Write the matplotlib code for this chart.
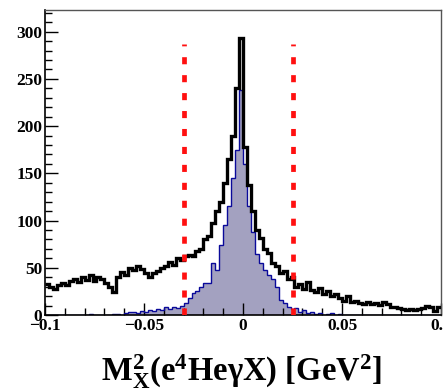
import numpy as np
import matplotlib
matplotlib.use("Agg")
import matplotlib.pyplot as plt
from matplotlib.ticker import MultipleLocator, FixedLocator

plt.rcParams['font.family'] = ['Liberation Serif', 'DejaVu Serif']
plt.rcParams['font.weight'] = 'bold'
plt.rcParams['mathtext.fontset'] = 'custom'
plt.rcParams['mathtext.rm'] = 'Liberation Serif:bold'
plt.rcParams['mathtext.it'] = 'Liberation Serif:bold'
plt.rcParams['mathtext.bf'] = 'Liberation Serif:bold'

# ---- data ----
x_min, x_max, n_bins = -0.1, 0.1, 100
black_counts = [33, 30, 28, 32, 34, 32, 36, 38, 35, 40,
                37, 42, 36, 40, 38, 34, 30, 24, 40, 46,
                42, 50, 48, 52, 49, 44, 40, 45, 47, 50,
                52, 56, 53, 60, 58, 62, 64, 63, 68, 70,
                80, 84, 97, 110, 120, 140, 165, 190, 240, 293,
                178, 138, 110, 90, 82, 70, 66, 55, 52, 45,
                47, 38, 40, 30, 33, 28, 35, 27, 24, 29,
                22, 25, 20, 22, 18, 15, 20, 14, 15, 13,
                12, 14, 12, 13, 11, 14, 12, 8, 9, 7,
                6, 5, 6, 5, 6, 7, 10, 8, 4, 9]
blue_counts = [0, 0, 0, 0, 0, 0, 0, 0, 0, 0,
               0, 1, 0, 0, 0, 0, 0, 1, 1, 0,
               2, 3, 3, 2, 4, 3, 5, 4, 6, 5,
               8, 6, 9, 7, 10, 13, 18, 23, 25, 30,
               34, 34, 55, 48, 74, 95, 115, 145, 175, 238,
               160, 115, 88, 65, 55, 48, 42, 38, 30, 16,
               13, 9, 6, 7, 3, 5, 2, 3, 1, 2,
               0, 1, 2, 0, 1, 0, 0, 0, 0, 0,
               0, 0, 0, 0, 0, 0, 0, 0, 0, 0,
               0, 0, 0, 0, 0, 0, 0, 0, 0, 0]
cut_lo, cut_hi = -0.03, 0.025
cut_top = 287
y_max = 323
x_ticks = [-0.1, -0.05, 0, 0.05, 0.1]
x_ticklabels = ['\u22120.1', '\u22120.05', '0', '0.05', '0.1']
y_ticks = [0, 50, 100, 150, 200, 250, 300]

edges = np.linspace(x_min, x_max, n_bins + 1)

fig = plt.figure(figsize=(4.43, 3.88), dpi=100)
ax = fig.add_axes([45 / 443, 73 / 388, 396 / 443, 305 / 388])

ax.stairs(blue_counts, edges, fill=True, color='#a3a1c0', zorder=1)
ax.stairs(blue_counts, edges, color='#0a0a9a', lw=1.0, baseline=None, zorder=2)
ax.stairs(black_counts, edges, color='black', lw=2.4, baseline=None, zorder=3)

for xc in (cut_lo, cut_hi):
    ax.vlines(xc, 0, cut_top, colors='#ff1010', lw=3.4,
              linestyles=(0, (1.5, 2.3)), zorder=4, capstyle='butt')

ax.set_xlim(x_min, x_max)
ax.set_ylim(0, y_max)

ax.xaxis.set_major_locator(FixedLocator(x_ticks))
ax.set_xticklabels(x_ticklabels)
ax.xaxis.set_minor_locator(MultipleLocator(0.01))
ax.yaxis.set_major_locator(FixedLocator(y_ticks))
ax.yaxis.set_minor_locator(MultipleLocator(10))

ax.tick_params(axis='both', which='both', direction='in', top=False, right=False,
               labelsize=12.5, width=1.0, colors='black')
ax.tick_params(axis='y', which='major', length=9, pad=2)
ax.tick_params(axis='y', which='minor', length=5)
ax.tick_params(axis='x', which='major', length=9, pad=2)
ax.tick_params(axis='x', which='minor', length=5)
for lab in ax.get_xticklabels() + ax.get_yticklabels():
    lab.set_fontweight('bold')

for side in ('top', 'right'):
    ax.spines[side].set_color('#555555')
    ax.spines[side].set_linewidth(1.0)
for side in ('left', 'bottom'):
    ax.spines[side].set_color('black')
    ax.spines[side].set_linewidth(1.2)

fig.text(242 / 443, 1 - 381 / 388,
         r'$\mathrm{M}^{2}_{\mathrm{X}}$(e$^{4}$He' + '\u03b3' + r'X) [GeV$^{2}$]',
         ha='center', va='baseline', fontsize=23.5, fontweight='bold')

fig.savefig('out.png', dpi=100)
